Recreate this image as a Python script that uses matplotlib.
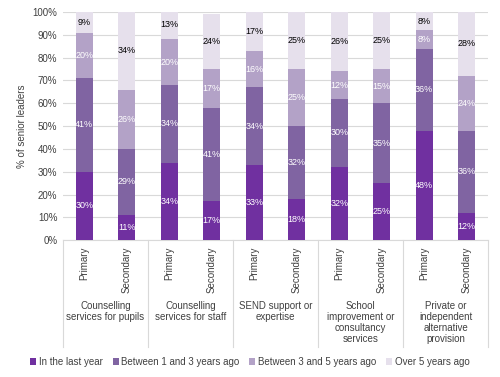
import matplotlib
matplotlib.use("Agg")
import matplotlib.pyplot as plt
import numpy as np

groups = ["Counselling\nservices for pupils", "Counselling\nservices for staff",
          "SEND support or\nexpertise", "School\nimprovement or\nconsultancy\nservices",
          "Private or\nindependent\nalternative\nprovision"]
phases = ["Primary", "Secondary"]
series = ["In the last year", "Between 1 and 3 years ago",
          "Between 3 and 5 years ago", "Over 5 years ago"]
# order: pupils P/S, staff P/S, SEND P/S, school impr P/S, private P/S
last_year = [30, 11, 34, 17, 33, 18, 32, 25, 48, 12]
one_to_three = [41, 29, 34, 41, 34, 32, 30, 35, 36, 36]
three_to_five = [20, 26, 20, 17, 16, 25, 12, 15, 8, 24]
over_five = [9, 34, 13, 24, 17, 25, 26, 25, 8, 28]

colors = ["#7030A0", "#8064A2", "#B3A2C7", "#E6E0EC"]
txt_colors = ["white", "white", "white", "black"]

plt.rcParams['font.family'] = ['Liberation Sans', 'DejaVu Sans']
fig = plt.figure(figsize=(5, 3.77), dpi=100)
ax = fig.add_axes([0.126, 0.363, 0.85, 0.605])

n = len(last_year)
x = np.arange(n)
data = [last_year, one_to_three, three_to_five, over_five]
bottom = np.zeros(n)
for vals, c, tc, lab in zip(data, colors, txt_colors, series):
    vals = np.array(vals, dtype=float)
    ax.bar(x, vals, 0.4, bottom=bottom, color=c, label=lab, zorder=3)
    for xi, b, v in zip(x, bottom, vals):
        ax.text(xi, b + v / 2, f"{int(v)}%", ha='center', va='center',
                fontsize=6.5, color=tc, zorder=4)
    bottom += vals

ax.set_xlim(-0.5, n - 0.5)
ax.set_ylim(0, 100)
ax.set_yticks(range(0, 101, 10))
ax.set_yticklabels([f"{v}%" for v in range(0, 101, 10)], fontsize=7, color='#404040')
ax.set_ylabel("% of senior leaders", fontsize=7, color='#404040')
ax.yaxis.grid(True, color='#D9D9D9', linewidth=0.8, zorder=0)
ax.tick_params(axis='y', length=0, pad=4)
for s in ['top', 'right', 'left']:
    ax.spines[s].set_visible(False)
ax.spines['bottom'].set_color('#D9D9D9')

ax.set_xticks(x)
ax.set_xticklabels(phases * len(groups), rotation=90, fontsize=7, color='#404040', va='top')
ax.tick_params(axis='x', length=0, pad=5)

# group separators and labels below the axis
trans = ax.get_xaxis_transform()
for k in range(len(groups) + 1):
    ax.plot([2 * k - 0.5, 2 * k - 0.5], [0, -0.47], transform=trans, color='#D9D9D9',
            linewidth=0.8, clip_on=False)
for k, g in enumerate(groups):
    ax.text(2 * k + 0.5, -0.265, g, transform=trans, ha='center', va='top',
            fontsize=7, color='#404040', linespacing=1.15)

fig.legend(loc='center', bbox_to_anchor=(0.5, 0.04), ncol=4, fontsize=7, frameon=False,
           handlelength=0.6, handleheight=0.6, handletextpad=0.3, columnspacing=1.0,
           labelcolor='#404040')

fig.savefig("out.png", dpi=100)
